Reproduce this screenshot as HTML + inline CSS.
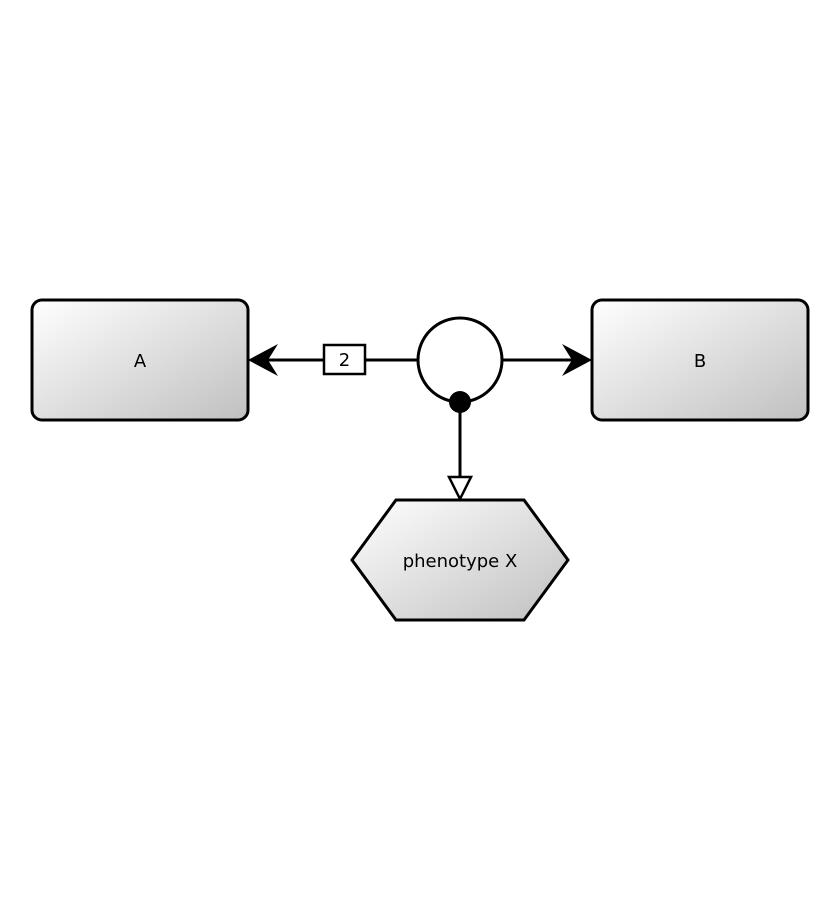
<!DOCTYPE html>
<html><head><meta charset="utf-8"><style>
html,body{margin:0;padding:0;background:#fff;}
svg{display:block;}
text{font-family:"DejaVu Sans","Liberation Sans",sans-serif;font-size:18px;fill:#000;}
</style></head><body>
<svg width="840" height="920" viewBox="0 0 840 920" xmlns="http://www.w3.org/2000/svg">
<defs>
<linearGradient id="g" x1="0" y1="0" x2="1" y2="1">
<stop offset="0" stop-color="#ffffff"/><stop offset="1" stop-color="#c0c0c0"/>
</linearGradient>
</defs>
<rect x="32" y="300" width="216" height="120" rx="10" fill="url(#g)" stroke="#000" stroke-width="3"/>
<text x="140" y="367" text-anchor="middle">A</text>
<rect x="592" y="300" width="216" height="120" rx="10" fill="url(#g)" stroke="#000" stroke-width="3"/>
<text x="700" y="367" text-anchor="middle">B</text>
<polygon points="352,560 396,500 524,500 568,560 524,620 396,620" fill="url(#g)" stroke="#000" stroke-width="3"/>
<text x="460" y="567" text-anchor="middle">phenotype X</text>
<!-- left connector -->
<line x1="418" y1="360" x2="262" y2="360" stroke="#000" stroke-width="3"/>
<polygon points="248,360 278,344 268,360 278,376" fill="#000"/>
<rect x="324" y="345" width="41" height="29" fill="#fff" stroke="#000" stroke-width="2.5"/>
<text x="344.5" y="366" text-anchor="middle">2</text>
<!-- right connector -->
<line x1="502" y1="360" x2="578" y2="360" stroke="#000" stroke-width="3"/>
<polygon points="592,360 562,344 572,360 562,376" fill="#000"/>
<!-- circle -->
<circle cx="460" cy="360" r="42" fill="#fff" stroke="#000" stroke-width="3"/>
<!-- down connector -->
<line x1="460" y1="402" x2="460" y2="477" stroke="#000" stroke-width="3"/>
<polygon points="460,499 449,477 471,477" fill="#fff" stroke="#000" stroke-width="2.5"/>
<circle cx="460" cy="402" r="11" fill="#000"/>
</svg>
</body></html>
